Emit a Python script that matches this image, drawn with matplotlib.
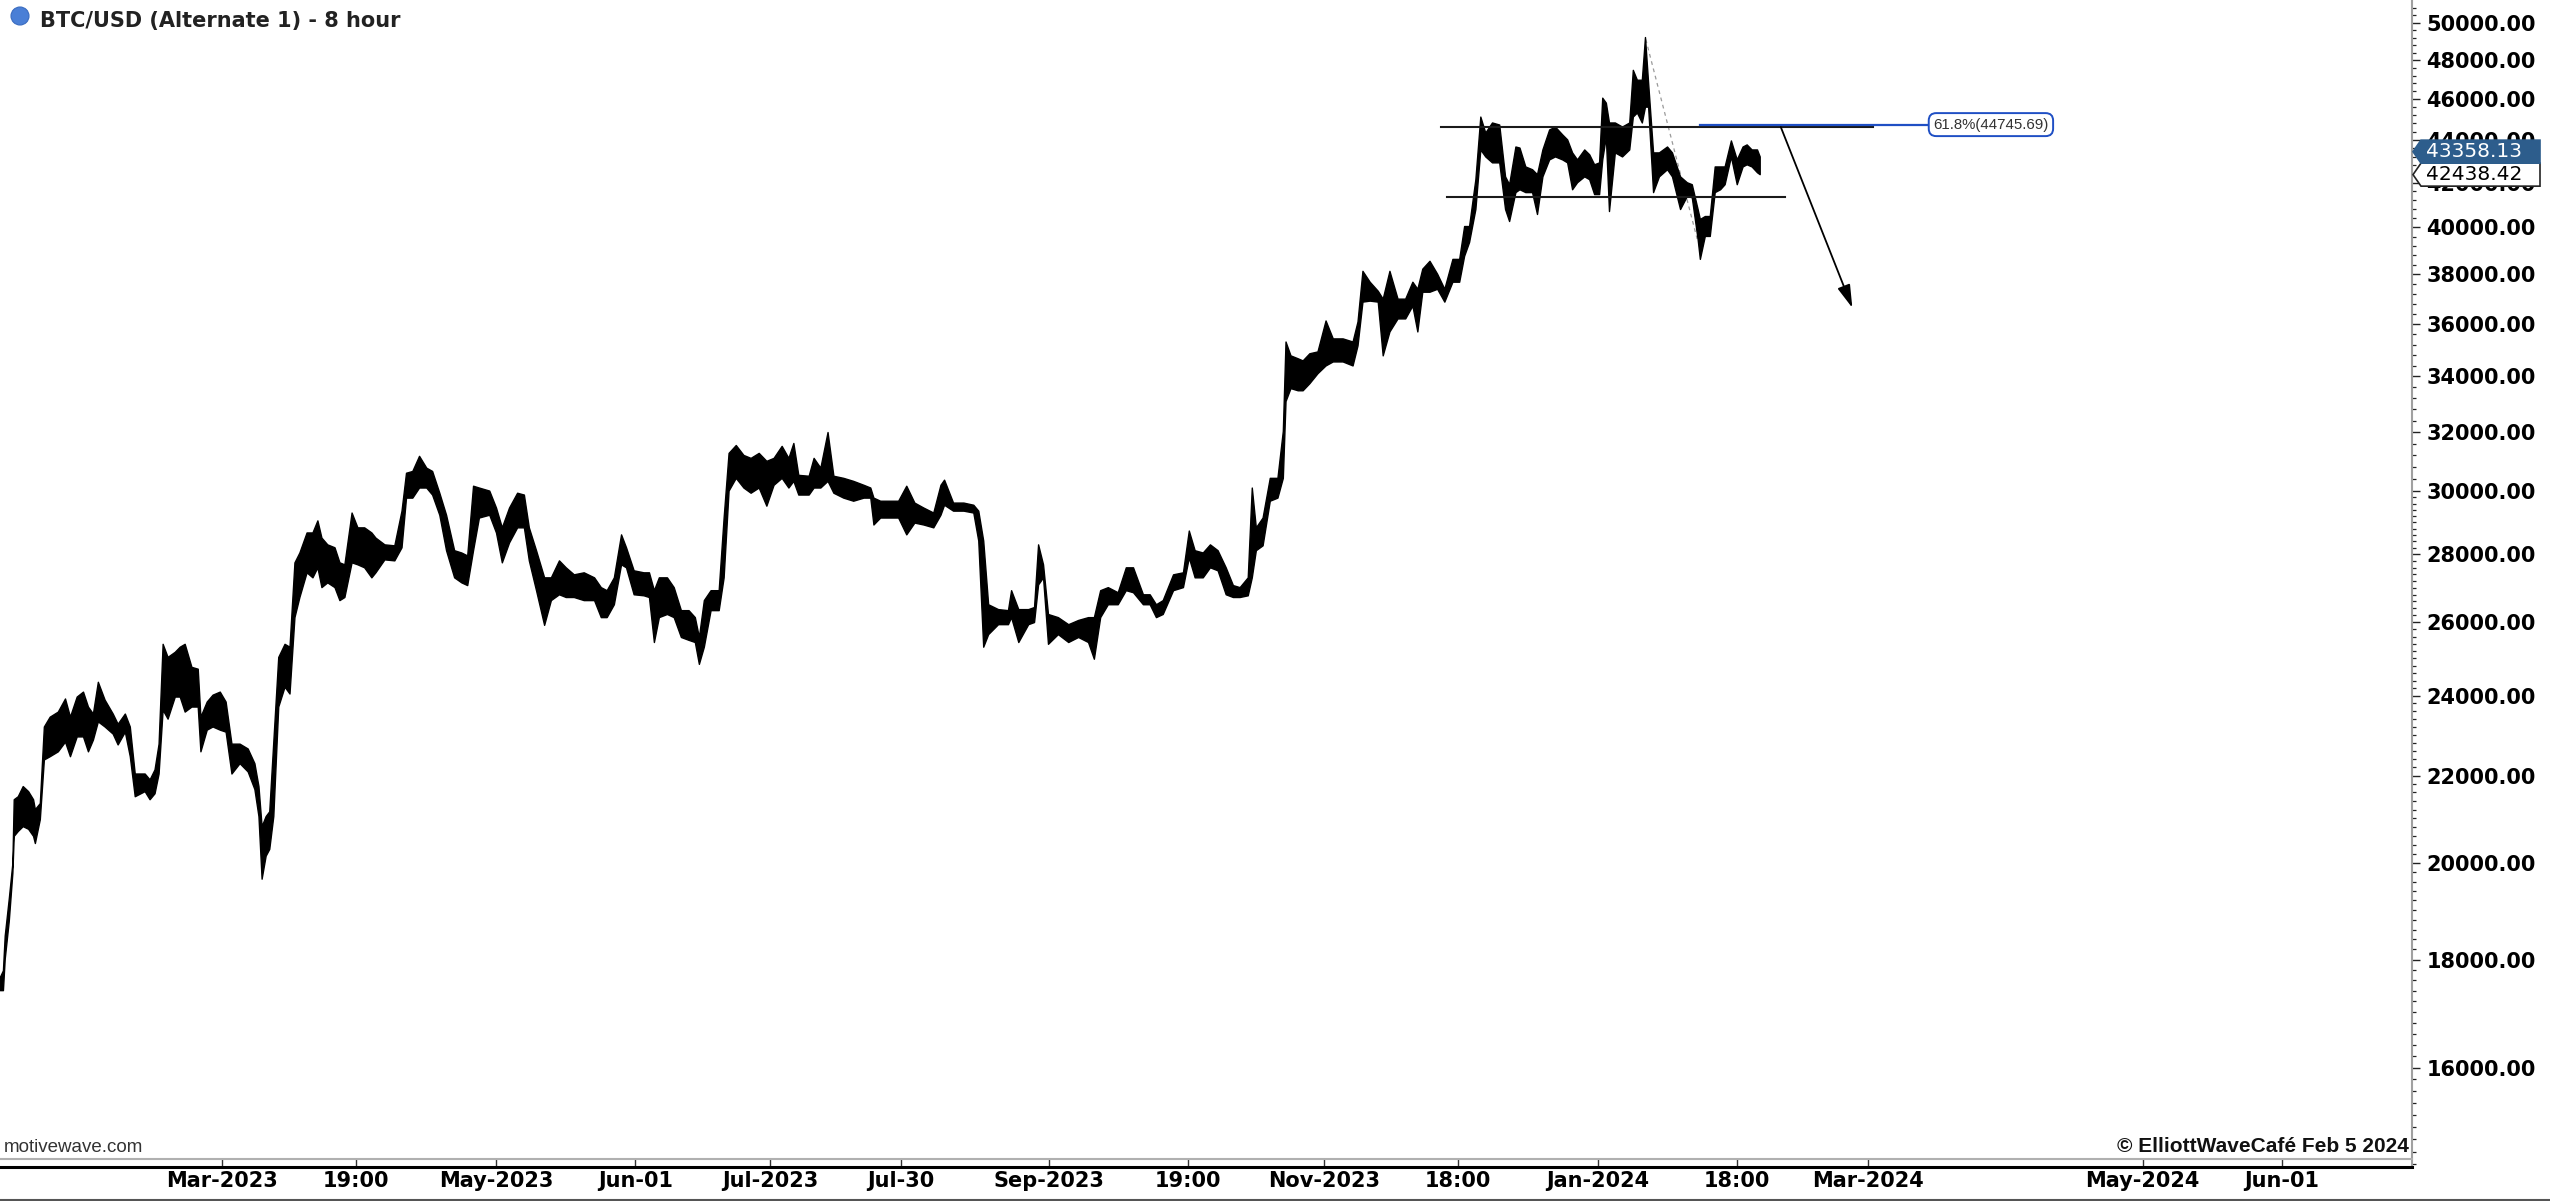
import matplotlib
matplotlib.use("Agg")          # headless, we only save the png
import matplotlib.pyplot as plt
import matplotlib.dates as mdates
from matplotlib.patches import Polygon, Ellipse
from matplotlib.lines import Line2D
import numpy as np
import pandas as pd

# config
# ======
W, H, DPI    = 2550, 1201, 100
AX_RIGHT_PX  = 2412            # right price axis line
AX_BOTTOM_PX = 1167            # bold time axis line
STRIP_PX     = 8               # tick strip between gray line and time axis
FONT_BOLD    = dict(family=["DejaVu Sans"], weight="bold", size=15)

# ====
DAY0 = "2023-01-01"
day = [
    9.7, 10.4, 10.8, 11.7, 12.5, 12.8, 13.7, 14.8, 16.0, 17.1,
    17.5, 18.6, 19.5, 20.8, 22.6, 24.2, 25.3, 26.8, 28.2, 29.3,
    30.4, 31.5, 33.0, 34.8, 35.9, 37.5, 38.6, 39.7, 41.9, 43.0,
    44.1, 45.0, 45.9, 47.0, 48.6, 49.7, 50.8, 52.3, 53.7, 54.3,
    55.7, 57.0, 58.6, 59.9, 61.2, 63.0, 64.8, 66.3, 67.2, 67.9,
    68.8, 69.6, 70.5, 71.6, 73.0, 74.1, 75.2, 76.3, 77.9, 79.2,
    80.3, 81.2, 82.5, 84.1, 85.2, 86.3, 87.9, 89.2, 90.7, 92.3,
    93.2, 95.2, 97.4, 99.0, 100.0, 101.4, 102.9, 104.5, 105.8, 107.4,
    108.9, 110.7, 112.3, 113.6, 114.9, 116.2, 118.5, 120.0, 121.3, 122.9,
    124.7, 126.2, 127.3, 128.9, 130.7, 132.2, 134.0, 135.5, 137.3, 139.5,
    141.8, 143.3, 144.6, 146.2, 147.8, 148.9, 150.6, 152.8, 154.0, 155.1,
    156.2, 158.0, 159.5, 161.1, 162.8, 164.2, 165.1, 166.2, 167.7, 169.5,
    170.6, 171.7, 173.3, 175.0, 176.6, 178.4, 180.1, 181.7, 183.5, 185.0,
    186.1, 187.2, 189.5, 190.6, 192.1, 193.7, 195.0, 197.2, 199.4, 201.7,
    203.2, 203.9, 205.4, 207.7, 209.4, 211.2, 213.0, 215.0, 217.2, 218.8,
    219.6, 221.6, 223.9, 226.1, 227.2, 228.3, 229.4, 231.6, 233.8, 234.5,
    236.1, 238.3, 239.6, 240.5, 241.6, 242.7, 244.9, 247.2, 249.4, 251.6,
    252.9, 254.3, 256.0, 258.2, 260.0, 261.6, 263.8, 265.3, 266.7, 268.2,
    270.5, 272.7, 274.0, 275.3, 277.1, 278.7, 280.4, 282.2, 283.8, 285.3,
    287.1, 288.0, 288.9, 290.4, 292.0, 293.7, 294.9, 295.5, 296.6, 298.2,
    299.3, 300.8, 302.6, 304.4, 306.0, 308.2, 310.4, 311.5, 312.6, 314.2,
    316.0, 317.1, 318.6, 320.4, 322.1, 323.7, 324.8, 325.9, 327.5, 329.2,
    330.8, 332.6, 334.1, 335.2, 336.3, 337.7, 338.8, 339.9, 341.4, 343.0,
    344.3, 345.2, 346.6, 347.5, 348.8, 350.3, 351.4, 352.6, 354.1, 355.4,
    357.0, 358.1, 359.2, 360.3, 361.9, 363.0, 364.1, 365.2, 365.9, 366.7,
    367.4, 368.7, 370.3, 371.9, 372.7, 373.6, 374.7, 375.4, 376.1, 377.2,
    378.5, 380.3, 381.4, 383.2, 384.7, 385.8, 387.1, 387.6, 388.7, 389.8,
    390.9, 392.1, 393.1, 394.5, 395.8, 397.1, 398.0, 399.1, 400.3, 400.9,
]
high = [
    17660, 17790, 18480, 19240, 20000, 21440, 21510, 21750, 21630, 21440,
    21210, 21350, 23210, 23460, 23590, 23930, 23460, 23980, 24110, 23720,
    23540, 24370, 23900, 23540, 23280, 23540, 23210, 22050, 22050, 21910,
    22150, 22780, 25400, 25040, 25180, 25320, 25400, 24770, 24720, 23460,
    23850, 24030, 24110, 23850, 22780, 22780, 22660, 22300, 21750, 20820,
    21050, 21160, 22830, 25040, 25400, 25320, 27760, 28060, 28680, 28680,
    29060, 28520, 28310, 28220, 27760, 27700, 29310, 28840, 28840, 28680,
    28520, 28310, 28280, 29370, 30610, 30670, 31180, 30780, 30670, 29950,
    29240, 28130, 28060, 27970, 30180, 30120, 30020, 29470, 28840, 29470,
    29950, 29890, 28840, 28130, 27310, 27310, 27820, 27610, 27400, 27460,
    27310, 27020, 26930, 27310, 28620, 28220, 27520, 27460, 27460, 26930,
    27310, 27310, 27020, 26350, 26350, 26150, 25590, 26640, 26930, 26930,
    29150, 31280, 31550, 31210, 31110, 31280, 31010, 31110, 31520, 31110,
    31620, 30540, 30510, 31110, 30780, 32000, 30510, 30440, 30340, 30210,
    30120, 29790, 29690, 29690, 29690, 30180, 29630, 29470, 29310, 30210,
    30380, 29630, 29630, 29560, 29370, 28430, 26520, 26380, 26350, 26930,
    26380, 26380, 26440, 28310, 27700, 26240, 26150, 25950, 26070, 26150,
    26150, 26930, 27020, 26870, 27610, 27610, 26810, 26810, 26520, 26640,
    27400, 27460, 28740, 28130, 28060, 28310, 28130, 27610, 27080, 27020,
    27310, 30120, 28840, 29150, 30440, 30440, 32040, 35320, 34790, 34680,
    34600, 34870, 34940, 36140, 35440, 35440, 35320, 36100, 38150, 37700,
    37330, 37010, 38150, 37010, 37010, 37700, 37410, 38240, 38570, 38030,
    37410, 38650, 38650, 40060, 40060, 42160, 45140, 44360, 44850, 44750,
    42290, 41930, 43690, 43640, 42750, 42620, 42390, 43550, 44510, 44650,
    44270, 44030, 43410, 43080, 43550, 43320, 42850, 42940, 46080, 45830,
    44850, 44850, 44650, 44850, 47500, 46990, 46990, 49230, 46840, 43410,
    43410, 43690, 43410, 42290, 42020, 41930, 40810, 40370, 40500, 40500,
    42750, 42750, 42750, 43980, 43080, 43690, 43790, 43550, 43550, 43220,
]
low = [
    17410, 17410, 18020, 18780, 19790, 20600, 20710, 20820, 20760, 20600,
    20440, 20980, 22390, 22470, 22590, 22830, 22470, 22960, 22960, 22590,
    22880, 23340, 23210, 23030, 22760, 23080, 22470, 21510, 21630, 21440,
    21580, 22050, 23640, 23410, 23980, 23980, 23590, 23720, 23720, 22590,
    23130, 23210, 23130, 23080, 22050, 22300, 22100, 21680, 21050, 19660,
    20160, 20310, 21050, 23720, 24240, 24060, 26150, 26730, 27460, 27310,
    27610, 27020, 27160, 27020, 26640, 26730, 27760, 27700, 27610, 27310,
    27460, 27850, 27820, 28220, 29790, 29790, 30120, 30120, 29890, 29240,
    28130, 27310, 27160, 27080, 28130, 29150, 29240, 28680, 27760, 28370,
    28840, 28840, 27820, 26930, 25930, 26640, 26810, 26730, 26730, 26640,
    26640, 26150, 26150, 26520, 27700, 27610, 26810, 26780, 26730, 25450,
    26150, 26240, 26150, 25590, 25510, 25450, 24850, 25320, 26350, 26350,
    27310, 30020, 30440, 30120, 29950, 30120, 29530, 30210, 30440, 30120,
    30340, 29890, 29890, 30120, 30120, 30340, 29950, 29790, 29690, 29790,
    29790, 28930, 29150, 29150, 29150, 28620, 28990, 28930, 28840, 29240,
    29560, 29370, 29370, 29310, 28430, 25320, 25670, 25950, 25950, 26150,
    25450, 25950, 26010, 27100, 27310, 25400, 25670, 25450, 25590, 25450,
    24990, 26150, 26520, 26520, 26930, 26870, 26520, 26520, 26150, 26240,
    26930, 27020, 27910, 27310, 27310, 27610, 27520, 26810, 26730, 26730,
    26780, 27310, 28130, 28280, 29690, 29790, 30440, 33100, 33570, 33490,
    33490, 33750, 34120, 34410, 34560, 34560, 34410, 35170, 36890, 36930,
    36890, 34790, 35710, 36220, 36220, 36730, 35710, 37290, 37290, 37410,
    36890, 37700, 37700, 38780, 39370, 40810, 43550, 43220, 42940, 42940,
    40810, 40280, 41570, 41700, 41570, 41570, 40590, 42290, 43080, 43220,
    43080, 42940, 41700, 42020, 42290, 42160, 41480, 41480, 43080, 44170,
    40720, 43410, 43220, 43550, 45140, 45340, 44850, 45630, 45630, 41570,
    42290, 42620, 42290, 40810, 41390, 41340, 39500, 38650, 39630, 39630,
    41570, 41700, 41930, 43220, 41930, 42750, 42850, 42750, 42480, 42390,
]

last_price  = 43358.13
close_price = 42438.42
fib_price   = 44745.69
fib_label   = "61.8%(44745.69)"

# drawn annotations: (start, end, price)
box_top    = ("2023-11-27 02:00", "2024-03-02 00:00", 44630)
box_bottom = ("2023-11-28 12:00", "2024-02-11 12:00", 41350)
fib_line   = ("2024-01-23 14:00", "2024-03-14 21:00", fib_price)
arrow_from = ("2024-02-10 14:00", 44630)
arrow_to   = ("2024-02-26 12:00", 36640)
swing      = [("2024-01-11 14:00", 49100), ("2024-01-23 00:00", 39500)]

# axis
XLIM = ("2023-01-10 18:00", "2024-06-29 21:30")
YLIM = (14356, 51259)
xtick_dates = ["2023-03-01", "2023-03-30 19:00", "2023-05-01", "2023-06-01",
               "2023-07-01", "2023-07-30", "2023-09-01", "2023-10-01 19:00",
               "2023-11-01", "2023-11-30 18:00", "2024-01-01",
               "2024-01-31 18:00", "2024-03-01", "2024-05-01", "2024-06-01"]
xtick_labels = ["Mar-2023", "19:00", "May-2023", "Jun-01", "Jul-2023",
                "Jul-30", "Sep-2023", "19:00", "Nov-2023", "18:00",
                "Jan-2024", "18:00", "Mar-2024", "May-2024", "Jun-01"]
ytick_major = list(range(16000, 50001, 2000))


def _t(s):
    """Date string -> matplotlib date number."""
    return mdates.date2num(pd.Timestamp(s))


def _price_tag(fig, ax, yc_px, text, fc, ec, tc):
    """
    Arrow-shaped price tag on the right axis, centred at display y yc_px.
    """
    x0 = ax.transAxes.transform((1, 0))[0]
    hh = 11.5
    pts = [(x0 + 1, yc_px), (x0 + 9, yc_px + hh), (x0 + 128, yc_px + hh),
           (x0 + 128, yc_px - hh), (x0 + 9, yc_px - hh)]
    pts = fig.transFigure.inverted().transform(pts)
    fig.patches.append(Polygon(pts, closed=True, fc=fc, ec=ec, lw=1.2,
                               transform=fig.transFigure, zorder=5))
    xt, yt = fig.transFigure.inverted().transform((x0 + 14, yc_px))
    fig.text(xt, yt, text, color=tc, fontsize=14.5, va="center", ha="left",
             family=["DejaVu Sans"], zorder=6)


# figure
# ======
fig = plt.figure(figsize=(W / DPI, H / DPI), dpi=DPI)
ax = fig.add_axes([0, 1 - AX_BOTTOM_PX / H, AX_RIGHT_PX / W, AX_BOTTOM_PX / H])

dates = mdates.date2num(pd.Timestamp(DAY0) + pd.to_timedelta(day, unit="D"))
ax.fill_between(dates, low, high, color="black", lw=1.0, zorder=3)

ax.set_yscale("log")
ax.set_xlim(_t(XLIM[0]), _t(XLIM[1]))
ax.set_ylim(*YLIM)

# range box, fib level, projection arrow, swing line
for a, b, p in (box_top, box_bottom):
    ax.plot([_t(a), _t(b)], [p, p], color="#1a1a1a", lw=1.5, zorder=4)
ax.plot([_t(fib_line[0]), _t(fib_line[1])], [fib_price] * 2,
        color="#1f4fc4", lw=1.6, zorder=4)
ax.text(_t(fib_line[1]) + 0.6, fib_price, fib_label, fontsize=10.8,
        family=["Liberation Sans", "DejaVu Sans"], color="#333333",
        ha="left", va="center", zorder=6,
        bbox=dict(boxstyle="round,pad=0.3,rounding_size=0.5", fc="white",
                  ec="#1f4fc4", lw=1.4))
ax.annotate("", xy=(_t(arrow_to[0]), arrow_to[1]),
            xytext=(_t(arrow_from[0]), arrow_from[1]),
            arrowprops=dict(arrowstyle="-|>,head_length=0.7,head_width=0.2",
                            color="black", lw=1.3, mutation_scale=20,
                            shrinkA=0, shrinkB=0), zorder=4)
ax.plot([_t(s[0]) for s in swing], [s[1] for s in swing], color="#9a9a9a",
        lw=0.9, ls=(0, (3, 3)), zorder=2)

# axes styling
# ============
for side in ("left", "top"):
    ax.spines[side].set_visible(False)
ax.spines["right"].set_color("#a0a0a0")
ax.spines["right"].set_linewidth(1.5)
ax.spines["bottom"].set_color("black")
ax.spines["bottom"].set_linewidth(2.2)

ax.yaxis.tick_right()
ax.set_yticks(ytick_major)
ax.set_yticklabels([f"{v:.2f}" for v in ytick_major], **FONT_BOLD)
minor = [v for v in list(range(14400, 30000, 200)) + list(range(30000, 51200, 400))
         if v % 2000]
ax.set_yticks(minor, minor=True)
ax.yaxis.set_minor_formatter(matplotlib.ticker.NullFormatter())
ax.tick_params(axis="y", which="major", direction="out", length=6, width=1,
               color="#222222", pad=4.3)
ax.tick_params(axis="y", which="minor", direction="out", length=3, width=0.9,
               color="#222222")

ax.set_xticks([_t(d) for d in xtick_dates])
ax.set_xticklabels(xtick_labels, **FONT_BOLD)
ax.tick_params(axis="x", which="major", direction="in", length=STRIP_PX * 0.72,
               width=1, color="#333333", pad=3)
ax.xaxis.set_minor_locator(matplotlib.ticker.NullLocator())

# gray line closing the price pane above the tick strip
ax.add_line(Line2D([0, 1], [STRIP_PX / AX_BOTTOM_PX] * 2, transform=ax.transAxes,
                   color="#b0b0b0", lw=1.5, clip_on=False, zorder=5))

# price tags (stacked, close price at its level, last price above it)
y_close = ax.transData.transform((dates[-1], close_price))[1] - 1.5
_price_tag(fig, ax, y_close, f"{close_price:.2f}", "white", "#222222", "black")
_price_tag(fig, ax, y_close + 23, f"{last_price:.2f}", "#2d5d8c", "#2d5d8c",
           "white")

# title, footer texts
# ===================
fig.patches.append(Ellipse((20 / W, 1 - 16 / H), 18 / W, 18 / H, fc="#4a7fd6",
                           ec="#3a6cc0", lw=0.8, transform=fig.transFigure))
fig.text(40 / W, 1 - 21 / H, "BTC/USD (Alternate 1) - 8 hour", color="#222222",
         va="center", ha="left", **FONT_BOLD)
fig.text(4 / W, 1 - 1147 / H, "motivewave.com", color="#333333", fontsize=13.5,
         family=["Liberation Sans", "DejaVu Sans"], va="center", ha="left")
fig.text(2409 / W, 1 - 1147 / H, "\u00a9 ElliottWaveCaf\u00e9 Feb 5 2024",
         color="#111111", fontsize=15, weight="bold",
         family=["Liberation Sans", "DejaVu Sans"], va="center", ha="right")
fig.add_artist(Line2D([0, 1], [1 - 1200 / H] * 2, transform=fig.transFigure,
                      color="#555555", lw=1.5))

fig.savefig("out.png", dpi=DPI)
